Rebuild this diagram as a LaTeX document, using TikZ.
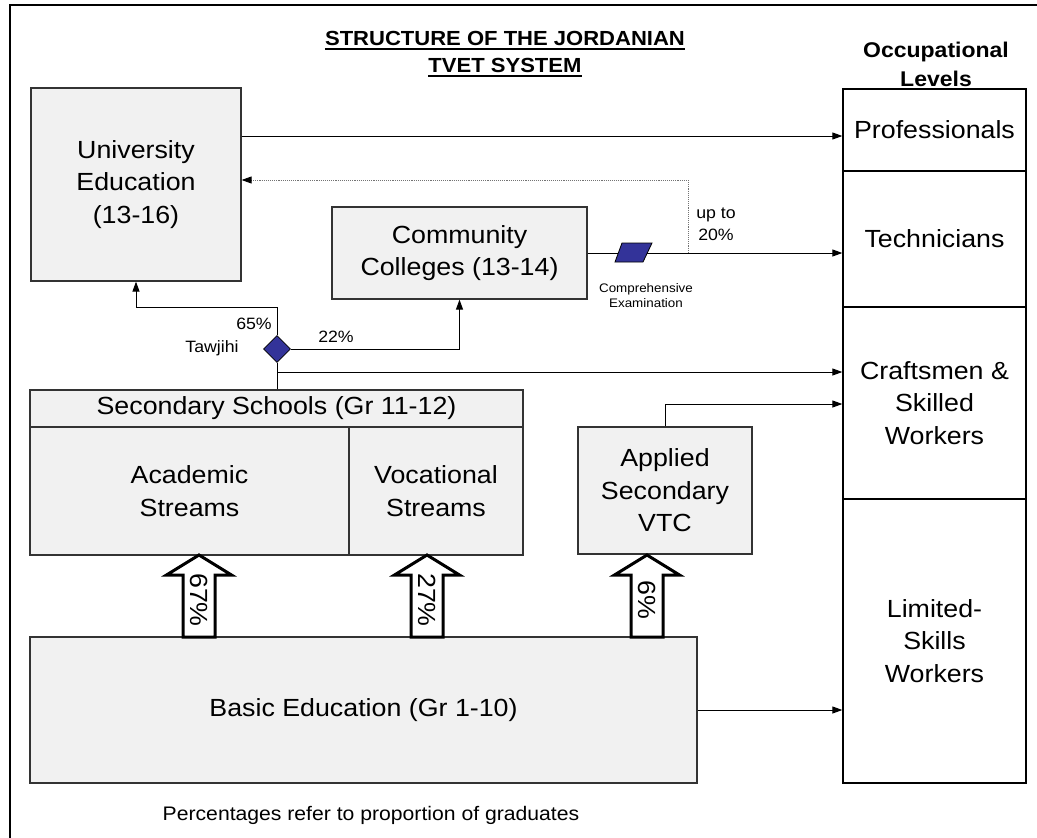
\documentclass[tikz,border=0pt]{standalone}
\usepackage{fontspec}
\setmainfont{Liberation Sans}[FakeStretch=1.08]
\usetikzlibrary{arrows.meta,shapes.geometric}
\definecolor{dblue}{HTML}{333399}
\definecolor{boxfill}{HTML}{F1F1F1}
\begin{document}
\begin{tikzpicture}[x=1pt,y=-1pt,
  box/.style={draw=black!80, line width=1.2pt, fill=boxfill, inner sep=0,
    font=\fontsize{24.8}{32.5}\selectfont, align=center},
  lvl/.style={draw=black, line width=1.3pt, fill=white, inner sep=0,
    minimum width=183, font=\fontsize{24.8}{32.5}\selectfont, align=center},
  arr/.style={-{Triangle[length=10pt,width=7pt]}, line width=1pt, black},
  ln/.style={line width=1pt, black},
  dotarr/.style={-{Triangle[length=10pt,width=7pt,color=black]}, line width=0.9pt,
    draw=black!55, densely dotted},
  lbl/.style={inner sep=0, font=\fontsize{16.4}{22}\selectfont, align=center},
  tiny/.style={inner sep=0, font=\fontsize{12.4}{15}\selectfont, align=center},
  bigarrow/.style={draw=black, line width=3pt, fill=white, line join=miter},
  pct/.style={inner sep=0, rotate=-90, font=\fontsize{24.8}{28}\selectfont},
  ttl/.style={inner sep=0, anchor=base, font=\bfseries\fontsize{20.4}{24}\selectfont}
]
\useasboundingbox (0,0) rectangle (1037,838);
% frame
\draw[line width=2pt] (10,838) -- (10,5) -- (1037,5);

% title
\node[ttl] (t1) at (505,45) {STRUCTURE OF THE JORDANIAN};
\node[ttl] (t2) at (505,72) {TVET SYSTEM};
\draw[line width=1.8pt] ([yshift=-4pt]t1.base west) -- ([yshift=-4pt]t1.base east);
\draw[line width=1.8pt] ([yshift=-4pt]t2.base west) -- ([yshift=-4pt]t2.base east);

\node[inner sep=0, align=center, font=\bfseries\fontsize{21.3}{29}\selectfont] (occ) at (936,64.2) {Occupational\\Levels};

% occupational levels column
\node[lvl, minimum height=82] (prof) at (934.5,130) {Professionals};
\node[lvl, minimum height=136] (tech) at (934.5,239) {Technicians};
\node[lvl, minimum height=192] (craft) at (934.5,403) {Craftsmen \&\\Skilled\\Workers};
\node[lvl, minimum height=284] (lim) at (934.5,641) {Limited-\\Skills\\Workers};

% education boxes
\node[box, minimum width=210, minimum height=193] (univ) at (136,184.5) {University\\Education\\(13-16)};
\node[box, minimum width=255, minimum height=92] (cc) at (459.5,253) {Community\\Colleges (13-14)};
\node[box, minimum width=493, minimum height=37] (sechead) at (276.5,408.5) {Secondary Schools (Gr 11-12)};
\node[box, minimum width=319, minimum height=128] (acad) at (189.5,491) {Academic\\Streams};
\node[box, minimum width=174, minimum height=128] (voc) at (436,491) {Vocational\\Streams};
\node[box, minimum width=174, minimum height=127] (vtc) at (665,490.5) {Applied\\Secondary\\VTC};
\node[box, minimum width=667, minimum height=146] (basic) at (363.5,710) {Basic Education (Gr 1-10)};

% Tawjihi decision
\node[diamond, draw=black, line width=0.8pt, fill=dblue, minimum width=27, minimum height=27, inner sep=0] (tawj) at (277,349) {};
\node[lbl] (l65) at (254,324) {65\%};
\node[lbl] (l22) at (336,337) {22\%};
\node[lbl] (ltaw) at (212,348) {Tawjihi};

\coordinate (j65) at (277,307);
\coordinate (j22) at (277,372);
\coordinate (up) at (241,136);
\coordinate (dj) at (688,253);
\coordinate (dtop) at (688,180);
\coordinate (vtcup) at (665,404);

% connectors
\draw[arr] (univ.east |- up) -- (up -| prof.west);
\draw[dotarr] (dj) -- (dtop) -- (dtop -| univ.east);
\draw[arr] (cc.east) -- (cc.east -| tech.west);
\draw[arr] (tawj.north) -- (j65) -- (j65 -| univ.south) -- (univ.south);
\draw[arr] (tawj.east) -| (cc.south);
\draw[ln] (sechead.north -| tawj) -- (tawj.south);
\draw[arr] (j22) -- (j22 -| craft.west);
\draw[arr] (vtc.north) -- (vtcup) -- (vtcup -| craft.west);
\draw[arr] (basic.east) -- (basic.east -| lim.west);

% comprehensive examination
\coordinate (exam) at (633.5,252.5);
\draw[line width=0.8pt, fill=dblue] (615,262) -- (643,262) -- (652,243) -- (622,243) -- cycle;
\node[lbl] (upto) at (716,224.5) {up to\\20\%};
\node[tiny] (examtxt) at (646,295.3) {Comprehensive\\Examination};

% flow arrows from basic education
\foreach \x/\p/\n in {199/67\%/a1, 427/27\%/a2, 647/6\%/a3} {
  \draw[bigarrow] (\x,555) -- (\x+32.5,575) -- (\x+16,575) -- (\x+16,637)
     -- (\x-16,637) -- (\x-16,575) -- (\x-32.5,575) -- cycle;
  \node[pct] (\n) at (\x,600) {\p};
}

\node[inner sep=0, anchor=base, font=\fontsize{19.6}{22}\selectfont] (note) at (371,820) {Percentages refer to proportion of graduates};
\end{tikzpicture}
\end{document}
